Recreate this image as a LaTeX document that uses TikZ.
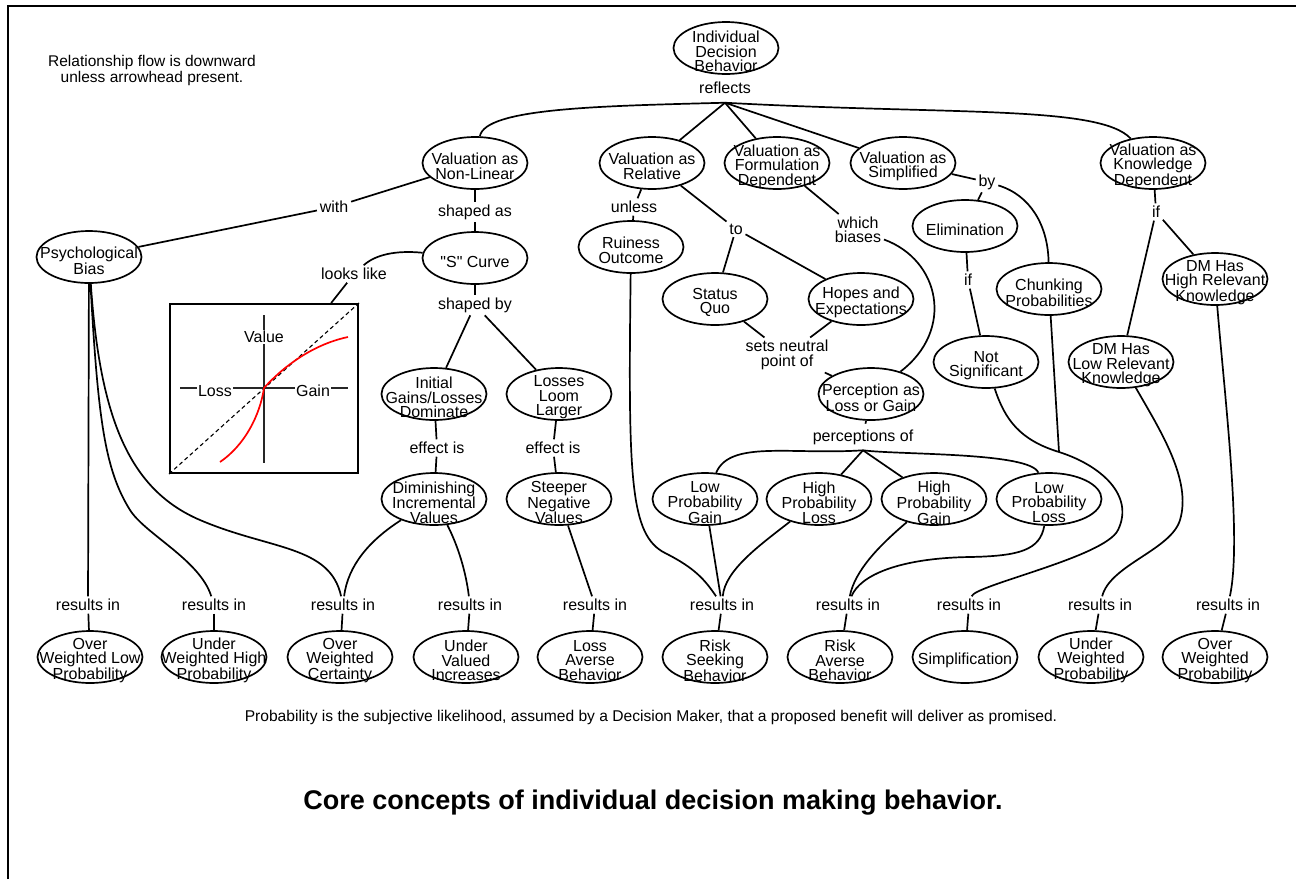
\documentclass[tikz,border=0pt]{standalone}
\usepackage{fontspec}
\setmainfont{Liberation Sans}[Ligatures=TeXOff]
\usetikzlibrary{shapes.geometric}

\begin{document}
\begin{tikzpicture}[x=1pt,y=-1pt,line width=1.7pt,
		font=\fontsize{16}{14.5}\selectfont,
		ctext/.style={align=center,inner sep=0pt,yshift=-3.5pt},
		concept/.style={ellipse,draw,minimum width=105pt,minimum height=52pt,inner sep=0pt,label={[ctext]center:#1}},
		link/.style={align=center,inner sep=2pt},
		conn/.style={draw,line width=1.7pt},
		axislbl/.style={fill=white,inner sep=1pt},
	]
		\useasboundingbox (0,0) rectangle (1296,879);
		\draw[line width=2.4pt] (8,879) -- (8,6) -- (1296,6);

		\node[align=center,font=\fontsize{15.5}{16}\selectfont] (flownote) at (152,70) {Relationship flow is downward\\unless arrowhead present.};

		\node[concept={Individual\\Decision\\Behavior}] (idb) at (726,48) {};
		\node[link,inner ysep=8pt] (reflects) at (725,88) {reflects};

		\node[concept={Valuation as\\Non-Linear}] (nonlin) at (475,163) {};
		\node[concept={Valuation as\\Relative}] (relative) at (652,163) {};
		\node[concept={Valuation as\\Formulation\\Dependent}] (formul) at (777,163) {};
		\node[concept={Valuation as\\Simplified}] (simpl) at (903,163) {};
		\node[concept={Valuation as\\Knowledge\\Dependent}] (knowl) at (1153,163) {};

		\node[link] (with) at (334,207) {with};
		\node[concept={Psychological\\Bias}] (psych) at (89,257) {};
		\node[link] (shapedas) at (475,212) {shaped as};
		\node[concept={"S" Curve}] (scurve) at (475,258) {};
		\node[link] (lookslike) at (354,274) {looks like};
		\node[link] (shapedby) at (475,305) {shaped by};
		\node[concept={Initial\\Gains/Losses\\Dominate}] (initial) at (434,394) {};
		\node[concept={Losses\\Loom\\Larger}] (loom) at (559,394) {};
		\node[link] (effa) at (437,448) {effect is};
		\node[link] (effb) at (553,448) {effect is};
		\node[concept={Diminishing\\Incremental\\Values}] (dimin) at (434,499) {};
		\node[concept={Steeper\\Negative\\Values}] (steeper) at (559,499) {};

		\node[link] (unless) at (634,207) {unless};
		\node[concept={Ruiness\\Outcome}] (ruin) at (631,247) {};
		\node[link] (relto) at (736,229) {to};
		\node[concept={Status\\Quo}] (status) at (715,299) {};
		\node[concept={Hopes and\\Expectations}] (hopes) at (861,299) {};
		\node[link] (which) at (858,230) {which\\biases};
		\node[link] (setsn) at (787,355) {sets neutral\\point of};
		\node[concept={Perception as\\Loss or Gain}] (percep) at (871,394) {};
		\node[link,inner ysep=5pt] (percof) at (863,437) {perceptions of};
		\node[concept={Low\\Probability\\Gain}] (lpg) at (705,499) {};
		\node[concept={High\\Probability\\Loss}] (hpl) at (819,499) {};
		\node[concept={High\\Probability\\Gain}] (hpg) at (934,499) {};
		\node[concept={Low\\Probability\\Loss}] (lpl) at (1049,499) {};

		\node[link] (by) at (987,182) {by};
		\node[concept={Elimination}] (elim) at (965,226) {};
		\node[link] (ifa) at (968,280) {if};
		\node[concept={Chunking\\Probabilities}] (chunk) at (1049,289) {};
		\node[concept={Not\\Significant}] (notsig) at (986,362) {};
		\node[link] (ifb) at (1156,212) {if};
		\node[concept={DM Has\\High Relevant\\Knowledge}] (dmhigh) at (1215,279) {};
		\node[concept={DM Has\\Low Relevant\\Knowledge}] (dmlow) at (1121,362) {};
		\coordinate (merge) at (1059,452);

		\node[link] (res1) at (88,605) {results in};
		\node[link] (res2) at (214,605) {results in};
		\node[link] (res3) at (343,605) {results in};
		\node[link] (res4) at (470,605) {results in};
		\node[link] (res5) at (595,605) {results in};
		\node[link] (res6) at (722,605) {results in};
		\node[link] (res7) at (848,605) {results in};
		\node[link] (res8) at (969,605) {results in};
		\node[link] (res9) at (1100,605) {results in};
		\node[link] (res10) at (1228,605) {results in};

		\node[concept={Over\\Weighted Low\\Probability}] (owlp) at (90,657) {};
		\node[concept={Under\\Weighted High\\Probability}] (uwhp) at (214,657) {};
		\node[concept={Over\\Weighted\\Certainty}] (owc) at (340,657) {};
		\node[concept={Under\\Valued\\Increases}] (uvi) at (466,657) {};
		\node[concept={Loss\\Averse\\Behavior}] (lab) at (590,657) {};
		\node[concept={Risk\\Seeking\\Behavior}] (rsb) at (715,657) {};
		\node[concept={Risk\\Averse\\Behavior}] (rab) at (840,657) {};
		\node[concept={Simplification}] (simplif) at (965,657) {};
		\node[concept={Under\\Weighted\\Probability}] (uwp) at (1091,657) {};
		\node[concept={Over\\Weighted\\Probability}] (owp) at (1215,657) {};

		% value function sketch
		\node[draw,line width=2pt,minimum width=188pt,minimum height=169pt,inner sep=0pt] (vfbox) at (264,388.5) {};
		\draw[line width=1.2pt,black!85] (264,315) -- (264,463) (180,388) -- (348,388);
		\draw[line width=1.1pt,dash pattern=on 4pt off 3pt] (vfbox.south west) -- (vfbox.north east);
		\draw[red,line width=1.7pt] (220,462) .. controls (245,445) and (260,415) .. (264,388)
			.. controls (280,370) and (310,345) .. (348,337);
		\node[axislbl] (vvalue) at (264,337) {Value};
		\node[axislbl] (vloss) at (215,391) {Loss};
		\node[axislbl] (vgain) at (313,391) {Gain};

		\path[conn]
			(idb) edge (reflects)
			(reflects.south) edge (relative) edge (formul) edge (simpl)
			(nonlin) edge (with) edge (shapedas)
			(with) edge (psych)
			(shapedas) edge (scurve)
			(scurve) edge (shapedby)
			(shapedby) edge (initial) edge (loom)
			(initial) edge (effa)
			(effa) edge (dimin)
			(loom) edge (effb)
			(effb) edge (steeper)
			(lookslike) edge (vfbox)
			(relative) edge (unless) edge (relto)
			(unless) edge (ruin)
			(relto) edge (status) edge (hopes)
			(formul) edge (which)
			(status) edge (setsn)
			(hopes) edge (setsn)
			(setsn) edge (percep)
			(percep) edge (percof)
			(percof.south) edge (hpl) edge (hpg)
			(simpl) edge (by)
			(by) edge (elim)
			(elim) edge (ifa)
			(ifa) edge (notsig)
			(knowl) edge (ifb)
			(ifb) edge (dmhigh) edge (dmlow)
			(chunk) edge (merge)
			(psych) edge (res1)
			(steeper) edge (res5)
			(lpg) edge (res6)
			(res1) edge (owlp)
			(res2) edge (uwhp)
			(res3) edge (owc)
			(res4) edge (uvi)
			(res5) edge (lab)
			(res6) edge (rsb)
			(res7) edge (rab)
			(res8) edge (simplif)
			(res9) edge (uwp)
			(res10) edge (owp)
		;

		\draw[conn] (reflects.south) .. controls (600,106) and (485,108) .. (nonlin);
		\draw[conn] (reflects.south) .. controls (950,115) and (1100,105) .. (knowl);
		\draw[conn] (scurve) .. controls (395,250) and (375,255) .. (lookslike);
		\draw[conn] (which) .. controls (940,260) and (955,330) .. (percep);
		\draw[conn] (by) .. controls (1030,195) and (1048,225) .. (chunk);
		\draw[conn] (percof.south) .. controls (790,455) and (730,440) .. (lpg);
		\draw[conn] (percof.south) .. controls (900,455) and (1030,452) .. (lpl);
		\draw[conn] (psych) .. controls (98,420) and (105,470) .. (130,510)
			.. controls (145,534) and (200,560) .. (res2);
		\draw[conn] (psych) .. controls (100,420) and (130,490) .. (200,520)
			.. controls (270,550) and (330,545) .. (res3);
		\draw[conn] (dimin) .. controls (370,540) and (348,565) .. (res3);
		\draw[conn] (dimin) .. controls (455,540) and (465,565) .. (res4);
		\draw[conn] (ruin) .. controls (628,480) and (630,535) .. (665,553)
			.. controls (695,568) and (705,580) .. (res6);
		\draw[conn] (hpl) .. controls (760,545) and (725,570) .. (res6);
		\draw[conn] (hpg) .. controls (880,545) and (855,570) .. (res7);
		\draw[conn] (lpl) .. controls (1040,550) and (1020,556) .. (970,557)
			.. controls (900,558) and (860,575) .. (res7);
		\draw[conn] (notsig) .. controls (1005,420) and (1020,440) .. (merge)
			.. controls (1100,465) and (1135,495) .. (1118,530)
			.. controls (1105,557) and (975,585) .. (res8);
		\draw[conn] (dmlow) .. controls (1160,430) and (1192,480) .. (1180,520)
			.. controls (1171,550) and (1110,565) .. (res9);
		\draw[conn] (dmhigh) .. controls (1225,400) and (1242,540) .. (res10);

		\node[font=\fontsize{15.6}{16}\selectfont] (probnote) at (651,717) {Probability is the subjective likelihood, assumed by a Decision Maker, that a proposed benefit will deliver as promised.};
		\node[font=\fontsize{27}{29}\selectfont\bfseries] (title) at (653,803) {Core concepts of individual decision making behavior.};
	\end{tikzpicture}
\end{document}
